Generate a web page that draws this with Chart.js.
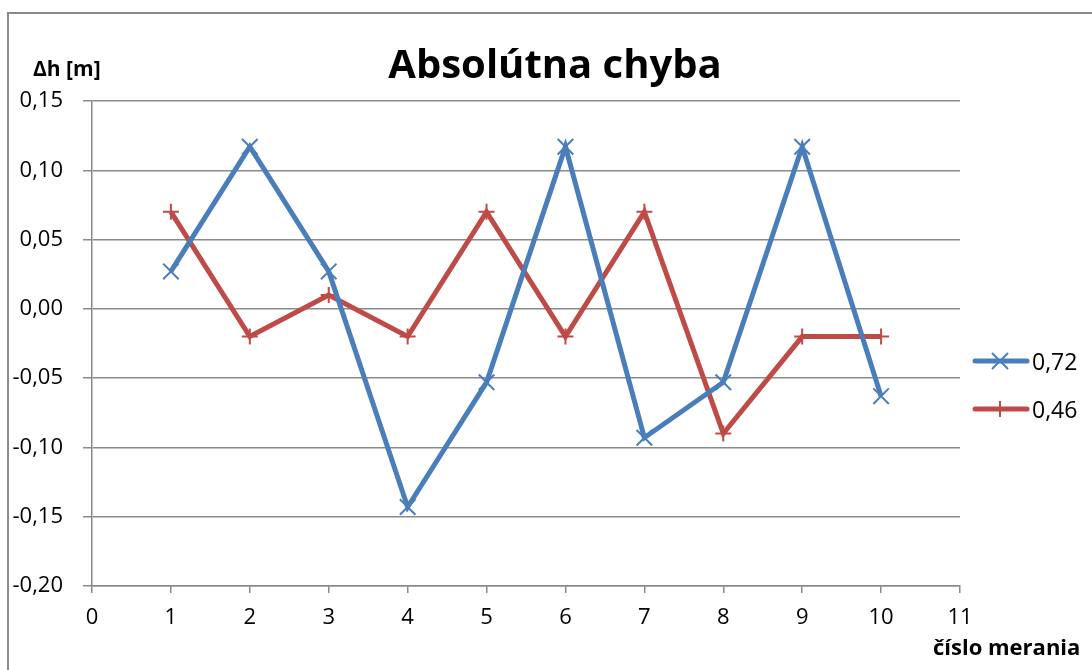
<!DOCTYPE html>
<html>
<head>
<meta charset="utf-8">
<script src="https://cdn.jsdelivr.net/npm/chart.js@4.4.1/dist/chart.umd.min.js"></script>
<style>
  body { margin: 0; background: #fff; }
  #wrap { position: relative; width: 1092px; height: 670px; overflow: hidden; font-family: "Open Sans", sans-serif; }
  #ramik { position: absolute; left: 7px; top: 12px; width: 1100px; height: 680px; border: 2px solid #8a8a8a; }
  #graf { position: absolute; left: 0; top: 0; }
  .txt { position: absolute; color: #000; white-space: nowrap; }
  #nadpis { left: 0; width: 1110px; top: 35px; text-align: center; font-size: 40px; font-weight: bold; }
  #osY { left: 33px; top: 54px; font-size: 21px; font-weight: bold; }
  #osX { left: 933px; top: 631px; font-size: 22px; font-weight: bold; }
  #legenda { position: absolute; left: 972px; top: 337px; }
  .pol { display: flex; align-items: center; height: 48px; font-size: 23px; }
</style>
</head>
<body>
<div id="wrap">
  <div id="ramik"></div>
  <canvas id="graf" width="1092" height="670"></canvas>
  <div class="txt" id="nadpis">Absolútna chyba</div>
  <div class="txt" id="osY">Δh [m]</div>
  <div class="txt" id="osX">číslo merania</div>
  <div id="legenda"></div>
</div>
<script>
const cisloMerania = [1, 2, 3, 4, 5, 6, 7, 8, 9, 10];
const chyba072 = [0.027, 0.117, 0.027, -0.143, -0.053, 0.117, -0.093, -0.053, 0.117, -0.063];
const chyba046 = [0.07, -0.02, 0.01, -0.02, 0.07, -0.02, 0.07, -0.09, -0.02, -0.02];
const nazvySerii = ['0,72', '0,46'];

const modra = '#4a7ebb';
const cervena = '#be4b48';

function body(hodnoty) {
    return cisloMerania.map((x, i) => ({ x: x, y: hodnoty[i] }));
}

const contexto = document.getElementById('graf').getContext('2d');

const grafico = new Chart(contexto, {
    type: 'line',
    data: {
        datasets: [{
            label: nazvySerii[0],
            data: body(chyba072),
            borderColor: modra,
            borderWidth: 5,
            pointStyle: 'crossRot',
            pointRadius: 11,
            pointBorderWidth: 2,
            pointBorderColor: modra,
            pointBackgroundColor: modra,
            tension: 0
        }, {
            label: nazvySerii[1],
            data: body(chyba046),
            borderColor: cervena,
            borderWidth: 5,
            pointStyle: 'cross',
            pointRadius: 8,
            pointBorderWidth: 2,
            pointBorderColor: cervena,
            pointBackgroundColor: cervena,
            tension: 0
        }]
    },
    options: {
        responsive: false,
        animation: false,
        layout: {
            padding: { left: 0, top: 101, right: 132, bottom: 0 }
        },
        scales: {
            x: {
                type: 'linear',
                min: 0,
                max: 11,
                afterFit: (s) => { s.height = 84; },
                ticks: {
                    stepSize: 1,
                    color: '#000',
                    padding: 12,
                    font: { family: 'Open Sans', size: 22 }
                },
                grid: {
                    drawOnChartArea: false,
                    drawTicks: true,
                    tickLength: 7,
                    color: '#8a8a8a',
                    lineWidth: 1.5
                },
                border: { color: '#8a8a8a', width: 1.5 }
            },
            y: {
                min: -0.2,
                max: 0.15,
                afterFit: (s) => { s.width = 92; },
                ticks: {
                    stepSize: 0.05,
                    color: '#000',
                    padding: 20,
                    font: { family: 'Open Sans', size: 22 },
                    callback: (v) => {
                        const t = Math.abs(v) < 1e-9 ? 0 : v;
                        return t.toFixed(2).replace('.', ',');
                    }
                },
                grid: {
                    tickLength: 9,
                    color: '#8a8a8a',
                    lineWidth: 1.5
                },
                border: { color: '#8a8a8a', width: 1.5 }
            }
        },
        plugins: {
            legend: { display: false },
            title: { display: false },
            tooltip: { enabled: false }
        }
    }
});

// legenda
const legenda = document.getElementById('legenda');
grafico.data.datasets.forEach((ds) => {
    const r = 8;
    const znacka = ds.pointStyle === 'crossRot'
        ? `<line x1="${28 - r}" y1="${12 - r}" x2="${28 + r}" y2="${12 + r}"/><line x1="${28 - r}" y1="${12 + r}" x2="${28 + r}" y2="${12 - r}"/>`
        : `<line x1="${28 - r}" y1="12" x2="${28 + r}" y2="12"/><line x1="28" y1="${12 - r}" x2="28" y2="${12 + r}"/>`;
    const pol = document.createElement('div');
    pol.className = 'pol';
    pol.innerHTML = `<svg width="58" height="24" style="margin-right:2px">
        <line x1="3" y1="12" x2="55" y2="12" stroke="${ds.borderColor}" stroke-width="5" stroke-linecap="round"/>
        <g stroke="${ds.borderColor}" stroke-width="2">${znacka}</g></svg><span>${ds.label}</span>`;
    legenda.appendChild(pol);
});
</script>
</body>
</html>
